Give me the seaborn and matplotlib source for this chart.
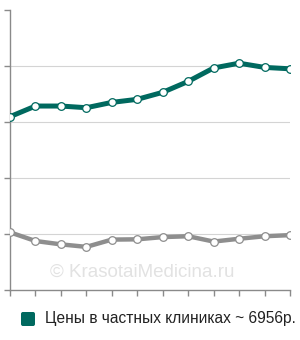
import matplotlib
matplotlib.use("Agg")
import matplotlib.pyplot as plt
import seaborn as sns
import pandas as pd
import numpy as np
from matplotlib.patches import FancyBboxPatch

months = list(range(1, 13))
private_prices = [6190, 6570, 6570, 6510, 6700, 6810, 7060, 7450, 7930, 8100, 7950, 7900]
public_prices = [2060, 1750, 1630, 1540, 1800, 1810, 1890, 1920, 1730, 1830, 1920, 1960]
legend_label = "Цены в частных клиниках ~ 6956р."
watermark = "© KrasotaiMedicina.ru"

green = "#00695f"
gray = "#8e8e8e"

sns.set_theme(style="white")
plt.rcParams['font.family'] = ['Liberation Sans', 'DejaVu Sans']

fig = plt.figure(figsize=(3.0, 3.4), dpi=100)
ax = fig.add_axes([10/300, 1-290/340, 280/300, 280/340])

df = pd.DataFrame({"m": months * 2,
                   "v": private_prices + public_prices,
                   "s": ["private"] * 12 + ["public"] * 12})

for name, col, lw in [("public", gray, 3.2), ("private", green, 3.6)]:
    sub = df[df.s == name]
    sns.lineplot(data=sub, x="m", y="v", ax=ax, color=col, linewidth=lw,
                 marker="o", markersize=5.5, markerfacecolor="white",
                 markeredgecolor=col, markeredgewidth=0.9, zorder=3)

ax.set_xlim(1, 12)
ax.set_ylim(0, 10000)
ax.set_yticks([0, 2000, 4000, 6000, 8000, 10000])
ax.set_xticks(months)
ax.set_xticklabels([])
ax.set_yticklabels([])
ax.set_xlabel("")
ax.set_ylabel("")
for y in [2000, 4000, 6000, 8000]:
    ax.axhline(y, color="#d4d4d4", linewidth=0.8, zorder=1)
for s in ["top", "right"]:
    ax.spines[s].set_visible(False)
for s in ["left", "bottom"]:
    ax.spines[s].set_color("#8a8a8a")
    ax.spines[s].set_linewidth(1.0)
ax.tick_params(axis="both", length=4, width=1.0, color="#8a8a8a", direction="out",
               bottom=True, left=True)
ax.set_facecolor("none")
ax.patch.set_alpha(0)

ax.text(6.2, 640, watermark, fontsize=13.5, color="#e2e2e2", ha="center", va="center", zorder=0)

sq = FancyBboxPatch((21/300, 1-326/340), 14/300, 14/340,
                    boxstyle="round,pad=0,rounding_size=0.006",
                    transform=fig.transFigure, facecolor=green, edgecolor="none")
fig.patches.append(sq)
fig.text(45/300, 1-319/340, legend_label, fontsize=11.2, color="#222222", ha="left", va="center")

fig.savefig("out.png", dpi=100)
